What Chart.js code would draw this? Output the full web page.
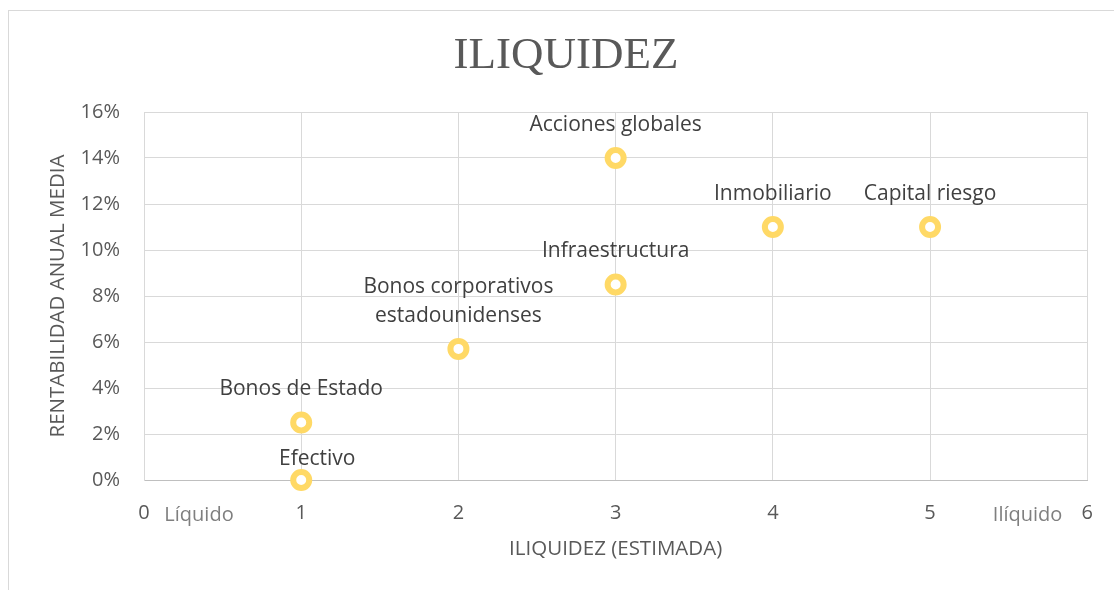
<!DOCTYPE html>
<html>
<head>
<meta charset="utf-8">
<script src="https://cdn.jsdelivr.net/npm/chart.js@4.4.1/dist/chart.umd.min.js"></script>
<style>
    html, body { margin: 0; padding: 0; background: #fff; }
    #wrap { position: relative; width: 1114px; height: 590px; overflow: hidden; }
    #frame {
        position: absolute; left: 8px; top: 10px; width: 1120px; height: 600px;
        border: 1px solid #d9d9d9; box-sizing: border-box;
    }
    canvas { position: absolute; left: 0; top: 0; }
</style>
</head>
<body>
<div id="wrap">
    <div id="frame"></div>
    <canvas id="chart" width="1114" height="590"></canvas>
</div>
<script>
// Liquidity vs. average annual return per asset class
const categories = [
    'Efectivo',
    'Bonos de Estado',
    ['Bonos corporativos', 'estadounidenses'],
    'Infraestructura',
    'Acciones globales',
    'Inmobiliario',
    'Capital riesgo'
];
const iliquidez = [1, 1, 2, 3, 3, 4, 5];
const rentabilidad = [0.0, 0.025, 0.057, 0.085, 0.14, 0.11, 0.11];

const xTicks = [0, 1, 2, 3, 4, 5, 6];
const yTicks = [0, 0.02, 0.04, 0.06, 0.08, 0.10, 0.12, 0.14, 0.16];

// end-of-axis captions, placed at axis values
const extremos = ['Líquido', 'Ilíquido'];
const extremosX = [0.35, 5.62];

const FONT = "'Open Sans', 'Liberation Sans', sans-serif";

// labels above each point
const pointLabels = {
    id: 'pointLabels',
    afterDatasetsDraw(chart) {
        const ctx = chart.ctx;
        const meta = chart.getDatasetMeta(0);
        ctx.save();
        ctx.font = '21px ' + FONT;
        ctx.fillStyle = '#404040';
        ctx.textAlign = 'center';
        ctx.textBaseline = 'middle';
        meta.data.forEach((pt, i) => {
            const lines = [].concat(categories[i]);
            let dx = 0, dy = -33;
            if (i === 0) { dx = 16; dy = -21; }
            lines.forEach((ln, j) => {
                const y = pt.y + dy - (lines.length - 1 - j) * 29;
                ctx.fillText(ln, pt.x + dx, y);
            });
        });
        ctx.restore();
    }
};

// "Líquido" / "Ilíquido" next to the x tick labels
const extremosPlugin = {
    id: 'extremos',
    afterDraw(chart) {
        const ctx = chart.ctx;
        const xs = chart.scales.x;
        ctx.save();
        ctx.font = '20px ' + FONT;
        ctx.fillStyle = '#7f7f7f';
        ctx.textAlign = 'center';
        ctx.textBaseline = 'middle';
        extremos.forEach((t, i) => {
            ctx.fillText(t, xs.getPixelForValue(extremosX[i]), chart.chartArea.bottom + 35);
        });
        ctx.restore();
    }
};

new Chart(document.getElementById('chart'), {
    type: 'scatter',
    data: {
        datasets: [{
            label: 'Rentabilidad',
            data: iliquidez.map((x, i) => ({ x: x, y: rentabilidad[i] })),
            clip: false,
            pointStyle: 'circle',
            pointRadius: 8,
            pointHoverRadius: 8,
            pointBorderWidth: 6,
            pointBorderColor: '#FFD966',
            pointBackgroundColor: '#ffffff'
        }]
    },
    options: {
        responsive: false,
        animation: false,
        layout: {
            padding: { left: 44, right: 26, top: 10, bottom: 0 }
        },
        plugins: {
            legend: { display: false },
            tooltip: { enabled: false },
            title: {
                display: true,
                text: 'ILIQUIDEZ',
                color: '#595959',
                font: { family: "'Liberation Serif', 'Times New Roman', serif", size: 45, weight: 'normal', lineHeight: 1.2 },
                padding: { top: 19.5, bottom: 28.5 }
            }
        },
        scales: {
            x: {
                type: 'linear',
                min: 0,
                max: 6,
                afterFit(scale) { scale.height = 110; },
                afterBuildTicks(scale) { scale.ticks = xTicks.map(v => ({ value: v })); },
                ticks: {
                    color: '#595959',
                    font: { family: FONT, size: 20 },
                    padding: 21,
                    maxRotation: 0
                },
                grid: { color: '#d9d9d9', drawTicks: false },
                border: { color: '#bfbfbf', width: 1 },
                title: {
                    display: true,
                    text: 'ILIQUIDEZ (ESTIMADA)',
                    color: '#595959',
                    font: { family: FONT, size: 20.5 },
                    padding: { top: 0, bottom: 28.5 }
                }
            },
            y: {
                type: 'linear',
                min: 0,
                max: 0.16,
                afterFit(scale) { scale.width = 100; },
                afterBuildTicks(scale) { scale.ticks = yTicks.map(v => ({ value: v })); },
                ticks: {
                    color: '#595959',
                    font: { family: FONT, size: 20 },
                    padding: 24,
                    callback: v => Math.round(v * 100) + '%'
                },
                grid: { color: '#d9d9d9', drawTicks: false },
                border: { color: '#d9d9d9', width: 1 },
                title: {
                    display: true,
                    text: 'RENTABILIDAD ANUAL MEDIA',
                    color: '#595959',
                    font: { family: FONT, size: 20.5 },
                    padding: { top: 1.5, bottom: 0 }
                }
            }
        }
    },
    plugins: [pointLabels, extremosPlugin]
});
</script>
</body>
</html>
